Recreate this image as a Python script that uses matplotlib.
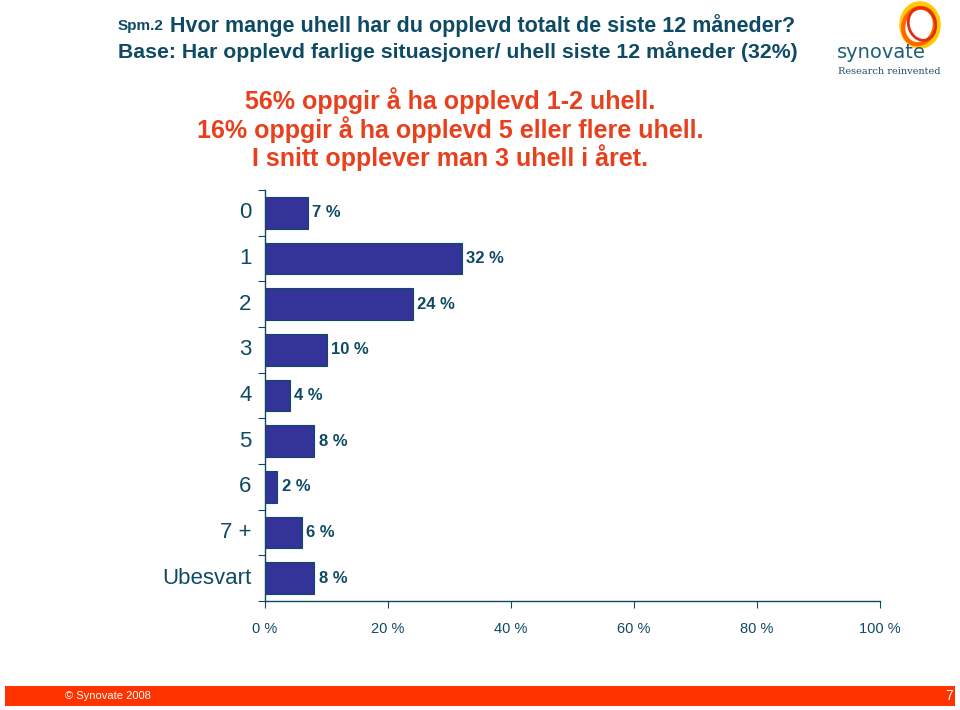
import numpy as np
import matplotlib
matplotlib.use("Agg")
import matplotlib.pyplot as plt
from matplotlib.patches import Rectangle, Ellipse

categories = ["0", "1", "2", "3", "4", "5", "6", "7 +", "Ubesvart"]
values = [7, 32, 24, 10, 4, 8, 2, 6, 8]
xticks = [0, 20, 40, 60, 80, 100]

title1_small = "Spm.2"
title1 = " Hvor mange uhell har du opplevd totalt de siste 12 måneder?"
title2 = "Base: Har opplevd farlige situasjoner/ uhell siste 12 måneder (32%)"
summary = ["56% oppgir å ha opplevd 1-2 uhell.",
           "16% oppgir å ha opplevd 5 eller flere uhell.",
           "I snitt opplever man 3 uhell i året."]

TEAL = "#0f4a64"
BAR = "#333399"
ORANGE = "#ff3300"
SUMMARY = "#e8401c"

plt.rcParams["font.family"] = ["Liberation Sans", "DejaVu Sans"]

fig = plt.figure(figsize=(9.6, 7.1), dpi=100)
W, H = 960, 710

def fx(px):
    return px / W

def fy(py):
    return 1 - py / H

# title
t = fig.text(fx(118), fy(26), title1_small, fontsize=11, color=TEAL, va="center",
             fontweight="bold")
fig.canvas.draw()
bb = t.get_window_extent()
fig.text(bb.x1 / W, fy(26), title1, fontsize=15.5, color=TEAL, va="center",
         fontweight="bold")
fig.text(fx(118), fy(52), title2, fontsize=15.3, color=TEAL, va="center",
         fontweight="bold")

for i, line in enumerate(summary):
    fig.text(fx(450), fy(101 + 28.5 * i), line, fontsize=18, fontweight="bold",
             color=SUMMARY, ha="center", va="center")

# chart
ax = fig.add_axes([fx(265), fy(601), fx(880) - fx(265), (601 - 190) / H])
y = np.arange(len(categories))
ax.barh(y, values, height=0.7, color=BAR, edgecolor=TEAL, linewidth=0.8)
for yi, v in zip(y, values):
    ax.text(v + 0.7, yi, f"{v} %", va="center", ha="left", fontsize=12,
            fontweight="bold", color=TEAL)
ax.set_xlim(0, 100)
ax.set_ylim(len(categories) - 0.5, -0.5)
ax.set_xticks(xticks)
ax.set_xticklabels([f"{v} %" for v in xticks], fontsize=10.5, color=TEAL)
ax.set_yticks(np.arange(-0.5, len(categories), 1.0))
ax.set_yticklabels([])
ax.tick_params(axis="x", length=5, color=TEAL, pad=10)
ax.tick_params(axis="y", length=5, color=TEAL)
for yi, c in zip(y, categories):
    ax.text(-2.2, yi, c, ha="right", va="center", fontsize=16, color=TEAL)
for s in ["top", "right"]:
    ax.spines[s].set_visible(False)
for s in ["left", "bottom"]:
    ax.spines[s].set_color(TEAL)
    ax.spines[s].set_linewidth(1.0)

# logo
lax = fig.add_axes([fx(832), fy(80), fx(120), 80 / H])
lax.set_xlim(0, 120)
lax.set_ylim(80, 0)
lax.axis("off")
lax.add_patch(Ellipse((88, 25), 36, 42, fill=False, edgecolor="#ffcc00", linewidth=4))
lax.add_patch(Ellipse((87, 26), 31, 37, angle=20, fill=False, edgecolor="#ff6600", linewidth=3))
lax.add_patch(Ellipse((90, 24), 27, 33, angle=-15, fill=False, edgecolor="#e03010", linewidth=2))
lax.text(5, 52, "synovate", fontsize=14, color="#1f5f7a", family="DejaVu Sans", va="center")
lax.text(6, 72, "Research reinvented", fontsize=7, color="#1f4f6a", family="DejaVu Serif", va="center")

# footer
fig.patches.append(Rectangle((fx(5), fy(706)), fx(950), 20 / H, transform=fig.transFigure,
                             facecolor=ORANGE, edgecolor="none"))
fig.text(fx(65), fy(696), "© Synovate 2008", fontsize=8, color="white", va="center")
fig.text(fx(953), fy(696), "7", fontsize=10, color="white", va="center", ha="right")

fig.savefig("out.png", dpi=100)
